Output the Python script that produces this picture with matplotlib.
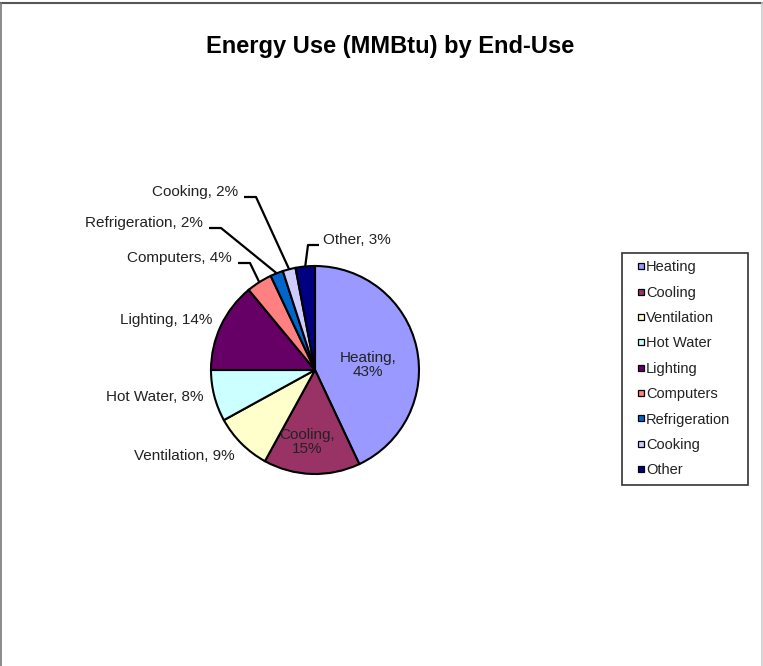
import numpy as np
import matplotlib
matplotlib.use("Agg")
import matplotlib.pyplot as plt
from matplotlib.lines import Line2D

plt.rcParams['font.family'] = ['Liberation Sans', 'DejaVu Sans']

# data: share of energy use (MMBtu) by end-use, in percent
end_uses = ["Heating", "Cooling", "Ventilation", "Hot Water", "Lighting",
            "Computers", "Refrigeration", "Cooking", "Other"]
shares = [43, 15, 9, 8, 14, 4, 2, 2, 3]
colors = ["#9999FF", "#993366", "#FFFFCC", "#CCFFFF", "#660066",
          "#FF8080", "#0066CC", "#CCCCFF", "#000080"]

W, H = 763, 666
fig = plt.figure(figsize=(W / 100, H / 100), dpi=100)
ax = fig.add_axes([0, 0, 1, 1])

cx, cy, r = 315, H - 370, 104
wedges, _ = ax.pie(shares, colors=colors, startangle=90, counterclock=False,
                   center=(cx, cy), radius=r, frame=True,
                   wedgeprops=dict(edgecolor="black", linewidth=1.5))
ax.set_xlim(0, W)
ax.set_ylim(0, H)
ax.set_aspect("equal")
ax.axis("off")

fs = 11
# inside labels (position in pixels from top-left)
inside = {"Heating": (368, 365), "Cooling": (307, 442)}
# outside labels: (x anchor, y, ha, leader?)
outside = {
    "Ventilation": (235, 456, "right", False),
    "Hot Water": (203, 397, "right", False),
    "Lighting": (212, 320, "right", False),
    "Computers": (232, 258, "right", True),
    "Refrigeration": (203, 223, "right", True),
    "Cooking": (238, 192, "right", True),
    "Other": (323, 240, "left", True),
}

for w, name, val in zip(wedges, end_uses, shares):
    if name in inside:
        x, y = inside[name]
        ax.text(x, H - y, f"{name},\n{val}%", ha="center", va="center",
                fontsize=fs, color="#222222", linespacing=1.05)
        continue
    x, y, ha, leader = outside[name]
    ax.text(x, H - y, f"{name}, {val}%", ha=ha, va="center",
            fontsize=fs, color="#222222")
    if leader:
        mid = np.deg2rad((w.theta1 + w.theta2) / 2)
        ex, ey = cx + r * np.cos(mid), cy + r * np.sin(mid)
        ly = H - y - 5
        if ha == "right":
            xs = [x + 6, x + 18, ex]
        else:
            xs = [x - 4, x - 15, ex]
        ax.plot(xs, [ly, ly, ey], color="black", lw=1.6, solid_capstyle="butt")

ax.text(390, H - 46, "Energy Use (MMBtu) by End-Use", ha="center", va="center",
        fontsize=17, fontweight="bold")

# legend: small square swatches with black edge
handles = [Line2D([], [], ls="none", marker="s", markersize=4.8,
                  markerfacecolor=c, markeredgecolor="black", markeredgewidth=0.9)
           for c in colors]
leg = ax.legend(handles, end_uses, loc="upper left", numpoints=1,
                bbox_to_anchor=(622, H - 483, 126, 230), bbox_transform=ax.transData,
                mode="expand", fontsize=10.5, frameon=True, fancybox=False,
                handlelength=1.6, handletextpad=-0.45,
                labelspacing=0.78, borderpad=0.5, borderaxespad=0)
leg.get_frame().set_edgecolor("black")
leg.get_frame().set_linewidth(1.2)
for t in leg.get_texts():
    t.set_color("#222222")

# outer chart border
fig.add_artist(Line2D([1 / W, 1 - 1 / W], [1 - 3 / H, 1 - 3 / H], color="#555555", lw=1.5))
fig.add_artist(Line2D([1.5 / W, 1.5 / W], [0, 1 - 3 / H], color="#777777", lw=1.2))
fig.add_artist(Line2D([1 - 1.5 / W, 1 - 1.5 / W], [0, 1 - 3 / H], color="#cccccc", lw=1.2))

fig.savefig("out.png", dpi=100)
